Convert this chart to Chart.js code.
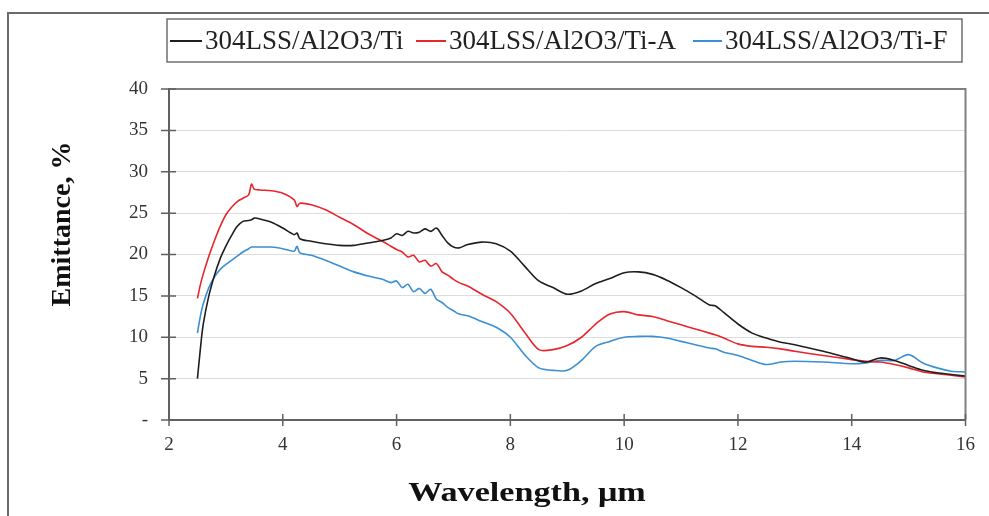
<!DOCTYPE html>
<html><head><meta charset="utf-8">
<script src="https://cdn.jsdelivr.net/npm/chart.js@4.4.1/dist/chart.umd.min.js"></script>
<style>html,body{margin:0;padding:0;background:#fff}#wrap{width:989px;height:516px;position:relative}</style>
</head><body><div id="wrap"><canvas id="c"></canvas></div>
<script>
const wavelength = [2.5,2.55,2.6,2.7,2.8,2.9,3.0,3.1,3.2,3.3,3.4,3.45,3.5,3.6,3.8,4.0,4.2,4.25,4.3,4.5,4.75,5.0,5.25,5.5,5.75,5.9,6.0,6.1,6.2,6.3,6.4,6.5,6.6,6.7,6.8,6.9,7.0,7.1,7.25,7.5,7.75,8.0,8.25,8.5,8.75,9.0,9.25,9.5,9.75,10.0,10.25,10.5,10.75,11.0,11.25,11.5,11.6,11.75,12.0,12.25,12.5,12.75,13.0,13.5,14.0,14.25,14.5,14.75,15.0,15.25,15.5,15.75,16.0];
const emitTi = [5.0,8.5,11.5,15.0,17.5,19.5,21.0,22.3,23.4,24.0,24.1,24.2,24.4,24.3,23.9,23.2,22.4,22.6,21.9,21.6,21.3,21.1,21.1,21.4,21.7,22.0,22.5,22.3,22.8,22.6,22.7,23.1,22.8,23.2,22.3,21.4,20.9,20.8,21.2,21.5,21.3,20.4,18.6,16.8,16.0,15.2,15.6,16.5,17.1,17.8,17.9,17.6,16.9,16.0,15.0,13.9,13.8,13.0,11.6,10.5,9.9,9.4,9.1,8.3,7.4,7.0,7.5,7.2,6.6,6.0,5.7,5.5,5.3];
const emitTiA = [14.7,16.3,17.6,19.8,21.7,23.4,24.8,25.7,26.4,26.8,27.2,28.5,27.9,27.8,27.7,27.4,26.6,25.8,26.2,26.0,25.4,24.5,23.6,22.5,21.6,21.0,20.6,20.3,19.7,19.9,19.1,19.3,18.6,18.9,17.9,17.5,17.0,16.6,16.2,15.2,14.3,12.9,10.6,8.5,8.5,9.0,10.0,11.6,12.8,13.1,12.7,12.5,12.0,11.5,11.0,10.5,10.3,9.9,9.2,8.9,8.8,8.6,8.3,7.8,7.3,7.1,7.0,6.7,6.3,5.8,5.6,5.4,5.2];
const emitTiF = [10.5,12.5,14.0,16.0,17.3,18.2,18.8,19.3,19.8,20.3,20.7,20.9,20.9,20.9,20.9,20.7,20.4,21.0,20.2,19.9,19.3,18.6,17.9,17.4,17.0,16.6,16.8,16.0,16.4,15.5,15.9,15.3,15.8,14.6,14.2,13.6,13.2,12.8,12.6,11.9,11.2,10.0,7.9,6.3,6.0,6.0,7.2,8.9,9.5,10.0,10.1,10.1,9.9,9.5,9.1,8.7,8.6,8.2,7.8,7.2,6.7,7.0,7.1,7.0,6.8,6.9,7.2,7.2,7.9,6.9,6.3,5.9,5.8];
const seriesNames = ['304LSS/Al2O3/Ti','304LSS/Al2O3/Ti-A','304LSS/Al2O3/Ti-F'];
const seriesColors = ['#1e1e1e','#e8262d','#3b8fd2'];
const xTicks = [2,4,6,8,10,12,14,16];
const yTicks = [0,5,10,15,20,25,30,35,40];
const xTitle = 'Wavelength, μm';
const yTitle = 'Emittance, %';

const SERIF = '"Liberation Serif","Times New Roman",serif';
const allSeries = [emitTi, emitTiA, emitTiF];

const decor = {
  id: 'decor',
  beforeDraw(chart) {
    const ctx = chart.ctx;
    ctx.save();
    ctx.fillStyle = '#fff';
    ctx.fillRect(0, 0, chart.width, chart.height);
    ctx.strokeStyle = '#6a6a6a';
    ctx.lineWidth = 2;
    ctx.beginPath();
    ctx.moveTo(8, chart.height);
    ctx.lineTo(8, 13);
    ctx.lineTo(chart.width, 13);
    ctx.stroke();
    ctx.restore();
  },
  afterDraw(chart) {
    const ctx = chart.ctx;
    const a = chart.chartArea;
    const xs = chart.scales.x, ys = chart.scales.y;
    ctx.save();
    ctx.strokeStyle = '#808080';
    ctx.lineWidth = 2;
    ctx.beginPath();
    ctx.moveTo(a.left, a.top);
    ctx.lineTo(a.right, a.top);
    ctx.lineTo(a.right, a.bottom);
    ctx.stroke();
    ctx.lineWidth = 1.5;
    ctx.strokeStyle = '#606060';
    ctx.beginPath();
    yTicks.forEach(v => {
      const y = ys.getPixelForValue(v);
      ctx.moveTo(a.left - 8, y); ctx.lineTo(a.left + 7, y);
    });
    xTicks.forEach(v => {
      const x = xs.getPixelForValue(v);
      ctx.moveTo(x, a.bottom - 6); ctx.lineTo(x, a.bottom + 6);
    });
    ctx.stroke();
    // axis titles
    ctx.fillStyle = '#111';
    ctx.font = 'bold 28px ' + SERIF;
    ctx.textAlign = 'center';
    ctx.textBaseline = 'middle';
    ctx.save();
    ctx.translate(527, 494);
    ctx.scale(1.22, 1);
    ctx.fillText(xTitle, 0, 0);
    ctx.restore();
    ctx.save();
    ctx.translate(63, 224);
    ctx.rotate(-Math.PI / 2);
    ctx.fillText(yTitle, 0, 0);
    ctx.restore();
    // legend
    ctx.strokeStyle = '#707070';
    ctx.lineWidth = 1.5;
    ctx.strokeRect(167, 19, 795, 43);
    ctx.font = '27px ' + SERIF;
    ctx.textAlign = 'left';
    ctx.fillStyle = '#222';
    const dashes = [[170, 202], [416, 446], [693, 722]];
    const texts = [205, 449, 725];
    seriesNames.forEach((n, i) => {
      ctx.strokeStyle = seriesColors[i];
      ctx.lineWidth = 2;
      ctx.beginPath();
      ctx.moveTo(dashes[i][0], 41); ctx.lineTo(dashes[i][1], 41);
      ctx.stroke();
      ctx.fillText(n, texts[i], 42);
    });
    ctx.restore();
  }
};

new Chart(document.getElementById('c'), {
  type: 'line',
  data: {
    datasets: seriesNames.map((n, i) => ({
      label: n,
      data: wavelength.map((w, k) => ({ x: w, y: allSeries[i][k] })),
      borderColor: seriesColors[i],
      backgroundColor: seriesColors[i],
      borderWidth: 1.6,
      pointRadius: 0,
      tension: 0.3,
      fill: false
    }))
  },
  options: {
    responsive: true,
    maintainAspectRatio: false,
    animation: false,
    layout: { padding: { left: 0, right: 19, top: 89, bottom: 0 } },
    plugins: { legend: { display: false }, tooltip: { enabled: false } },
    scales: {
      x: {
        type: 'linear', min: 2, max: 16,
        afterBuildTicks: s => { s.ticks = xTicks.map(v => ({ value: v })); },
        afterFit: s => { s.height = 96; },
        grid: { display: false, drawTicks: false },
        border: { display: true, color: '#606060', width: 2 },
        ticks: { padding: 14, color: '#333', font: { family: SERIF, size: 19 } }
      },
      y: {
        min: 0, max: 40,
        afterBuildTicks: s => { s.ticks = yTicks.map(v => ({ value: v })); },
        afterFit: s => { s.width = 169; },
        grid: { color: '#dcdcdc', lineWidth: 1, drawTicks: false },
        border: { display: true, color: '#606060', width: 2 },
        ticks: { padding: 21, color: '#333', font: { family: SERIF, size: 19 },
          callback: v => v === 0 ? '-' : String(v) }
      }
    }
  },
  plugins: [decor]
});
</script>
</body></html>
